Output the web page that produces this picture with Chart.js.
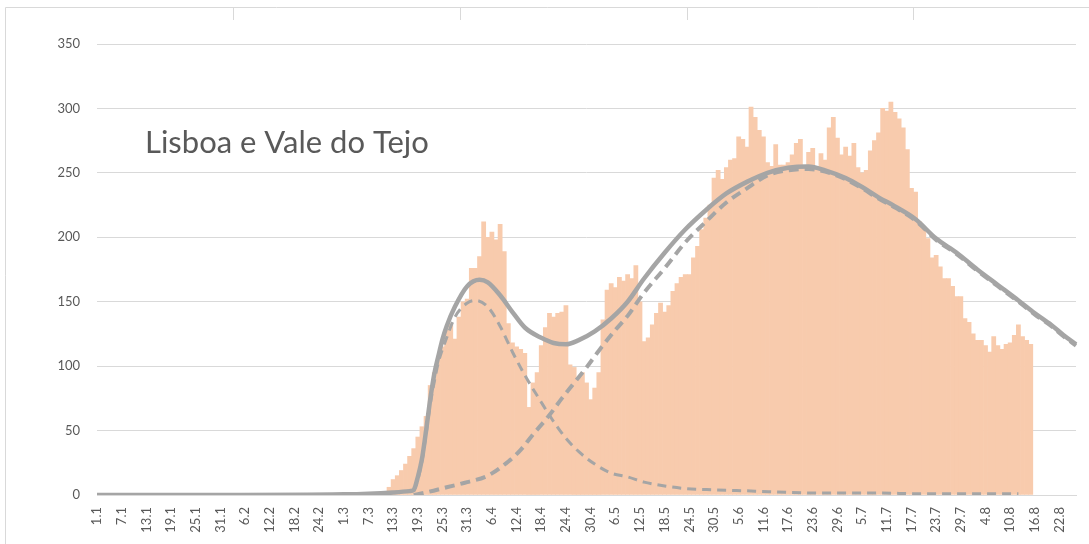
<!DOCTYPE html>
<html>
<head>
<meta charset="utf-8">
<script src="https://cdn.jsdelivr.net/npm/chart.js@4.4.1/dist/chart.umd.min.js"></script>
<style>
  html, body { margin: 0; background: #fff; }
</style>
</head>
<body>
<canvas id="chart" width="1089" height="544"></canvas>
<script>
// daily categories 1.1 ... 26.8 (2020)
const days = [];
for (let d = new Date(2020, 0, 1); d <= new Date(2020, 7, 26); d.setDate(d.getDate() + 1)) {
  days.push(d.getDate() + '.' + (d.getMonth() + 1));
}

// new cases per day, starting on 10.3
const casesFrom = '10.3';
const newCases = [
  1, 2, 6, 12, 15, 19, 24, 30, 36, 45, 53, 61, 85, 95, 107, 115, 128, 133, 121, 138,
  150, 152, 176, 176, 185, 212, 200, 204, 198, 210, 189, 133, 118, 115, 113, 110, 68, 87, 95, 116,
  130, 141, 138, 141, 142, 147, 101, 99, 91, 95, 87, 74, 83, 95, 136, 159, 164, 161, 169, 166,
  171, 168, 178, 150, 119, 122, 132, 141, 149, 142, 147, 158, 164, 169, 171, 171, 184, 193, 206, 215,
  225, 246, 252, 245, 254, 260, 261, 278, 276, 270, 301, 293, 283, 278, 258, 255, 272, 256, 256, 258,
  264, 273, 276, 256, 266, 269, 255, 265, 260, 285, 293, 277, 264, 270, 263, 273, 254, 250, 252, 267,
  275, 281, 300, 298, 305, 297, 292, 285, 268, 238, 235, 212, 207, 199, 184, 186, 177, 168, 168, 162,
  154, 154, 137, 134, 125, 120, 120, 116, 111, 123, 116, 113, 117, 118, 124, 132, 123, 120, 117
];

// fitted curves: [day, value]
const totalFit = [
  ['1.1', 0], ['31.1', 0], ['1.3', 0.5], ['7.3', 1], ['13.3', 2], ['17.3', 3], ['18.3', 4],
  ['19.3', 14], ['20.3', 28], ['21.3', 50], ['22.3', 74], ['23.3', 94], ['24.3', 108], ['25.3', 121],
  ['26.3', 131], ['28.3', 146], ['31.3', 162], ['3.4', 167], ['5.4', 165], ['8.4', 155], ['11.4', 142],
  ['14.4', 130], ['18.4', 122], ['21.4', 118], ['24.4', 117], ['27.4', 120], ['1.5', 127], ['5.5', 137],
  ['9.5', 150], ['13.5', 168], ['18.5', 188], ['23.5', 206], ['28.5', 221], ['2.6', 234], ['7.6', 243],
  ['12.6', 250], ['17.6', 254], ['22.6', 255], ['26.6', 252], ['1.7', 246], ['5.7', 239], ['9.7', 231],
  ['13.7', 224], ['18.7', 214], ['23.7', 199], ['28.7', 188], ['2.8', 175], ['7.8', 163], ['12.8', 151],
  ['16.8', 141], ['20.8', 132], ['23.8', 124], ['26.8', 117]
];
const firstWave = [
  ['18.3', 3], ['19.3', 12], ['20.3', 26], ['21.3', 47], ['22.3', 70], ['23.3', 88], ['24.3', 103],
  ['26.3', 122], ['28.3', 138], ['31.3', 149], ['2.4', 151], ['5.4', 146], ['8.4', 131], ['11.4', 111],
  ['14.4', 93], ['18.4', 72], ['21.4', 57], ['24.4', 44], ['27.4', 34], ['1.5', 24], ['5.5', 17],
  ['9.5', 14], ['13.5', 10], ['18.5', 7], ['23.5', 5], ['30.5', 4], ['9.6', 3], ['17.6', 2],
  ['24.6', 1.5], ['9.7', 1.5], ['19.7', 1], ['12.8', 1]
];
const secondWave = [
  ['18.3', 0], ['21.3', 2], ['26.3', 6], ['31.3', 10], ['5.4', 15], ['10.4', 26], ['13.4', 35],
  ['16.4', 47], ['20.4', 62], ['23.4', 75], ['26.4', 87], ['29.4', 99], ['2.5', 112], ['6.5', 128],
  ['9.5', 139], ['13.5', 157], ['18.5', 176], ['23.5', 196], ['28.5', 212], ['2.6', 227], ['7.6', 238],
  ['12.6', 248], ['17.6', 252], ['22.6', 253], ['26.6', 251], ['1.7', 245], ['5.7', 238], ['9.7', 230],
  ['13.7', 223], ['18.7', 213], ['23.7', 198], ['28.7', 187], ['2.8', 174], ['7.8', 162], ['12.8', 150],
  ['16.8', 140], ['20.8', 131], ['23.8', 123], ['26.8', 116]
];

const title = 'Lisboa e Vale do Tejo';
const textColor = '#595959';
const lineColor = '#a5a5a5';

const start = days.indexOf(casesFrom);
const barData = days.map((d, i) => {
  if (i < start) return 0;
  const v = newCases[i - start];
  return v === undefined ? null : v;
});
const toPoints = arr => arr.map(p => ({ x: p[0], y: p[1] }));

// frame lines and the region name
const decor = {
  id: 'decor',
  beforeDraw(chart) {
    const ctx = chart.ctx;
    ctx.save();
    ctx.strokeStyle = '#d9d9d9';
    ctx.lineWidth = 1;
    ctx.beginPath();
    ctx.moveTo(5.5, 544); ctx.lineTo(5.5, 7.5); ctx.lineTo(1089, 7.5);
    [233, 460, 687, 913].forEach(x => { ctx.moveTo(x + 0.5, 7.5); ctx.lineTo(x + 0.5, 20); });
    ctx.stroke();
    ctx.restore();
  },
  afterDatasetsDraw(chart) {
    const ctx = chart.ctx;
    ctx.save();
    ctx.fillStyle = textColor;
    ctx.font = '31px Lato';
    ctx.textBaseline = 'alphabetic';
    ctx.fillText(title, 145, 153);
    ctx.restore();
  }
};

new Chart(document.getElementById('chart'), {
  data: {
    labels: days,
    datasets: [
      {
        type: 'line', label: 'total', data: toPoints(totalFit), order: 1,
        borderColor: lineColor, borderWidth: 4.5, pointRadius: 0,
        cubicInterpolationMode: 'monotone'
      },
      {
        type: 'line', label: 'wave 1', data: toPoints(firstWave), order: 2,
        borderColor: lineColor, borderWidth: 3, borderDash: [9, 6], pointRadius: 0,
        cubicInterpolationMode: 'monotone'
      },
      {
        type: 'line', label: 'wave 2', data: toPoints(secondWave), order: 3,
        borderColor: lineColor, borderWidth: 4, borderDash: [10, 6], pointRadius: 0,
        cubicInterpolationMode: 'monotone'
      },
      {
        type: 'bar', label: 'cases', data: barData, order: 10,
        backgroundColor: '#f8cbad', borderWidth: 0,
        barPercentage: 1, categoryPercentage: 1
      }
    ]
  },
  options: {
    responsive: false,
    animation: false,
    layout: { padding: { top: 44, right: 13, left: 0, bottom: 0 } },
    plugins: { legend: { display: false }, tooltip: { enabled: false } },
    scales: {
      x: {
        offset: false,
        grid: { display: false, drawTicks: false },
        border: { color: '#d9d9d9' },
        ticks: {
          autoSkip: false, minRotation: 90, maxRotation: 90, padding: 12,
          color: textColor, font: { family: 'Lato', size: 13 },
          callback: (v, i) => (i % 6 === 0 ? days[i] : '')
        },
        afterFit: s => { s.height = 49; s.paddingLeft = 0; s.paddingRight = 0; }
      },
      y: {
        min: 0, max: 350,
        ticks: { stepSize: 50, padding: 17, color: textColor, font: { family: 'Lato', size: 13 } },
        grid: { color: '#d9d9d9', drawTicks: false },
        border: { display: false },
        afterFit: s => { s.width = 97; }
      }
    }
  },
  plugins: [decor]
});
</script>
</body>
</html>
